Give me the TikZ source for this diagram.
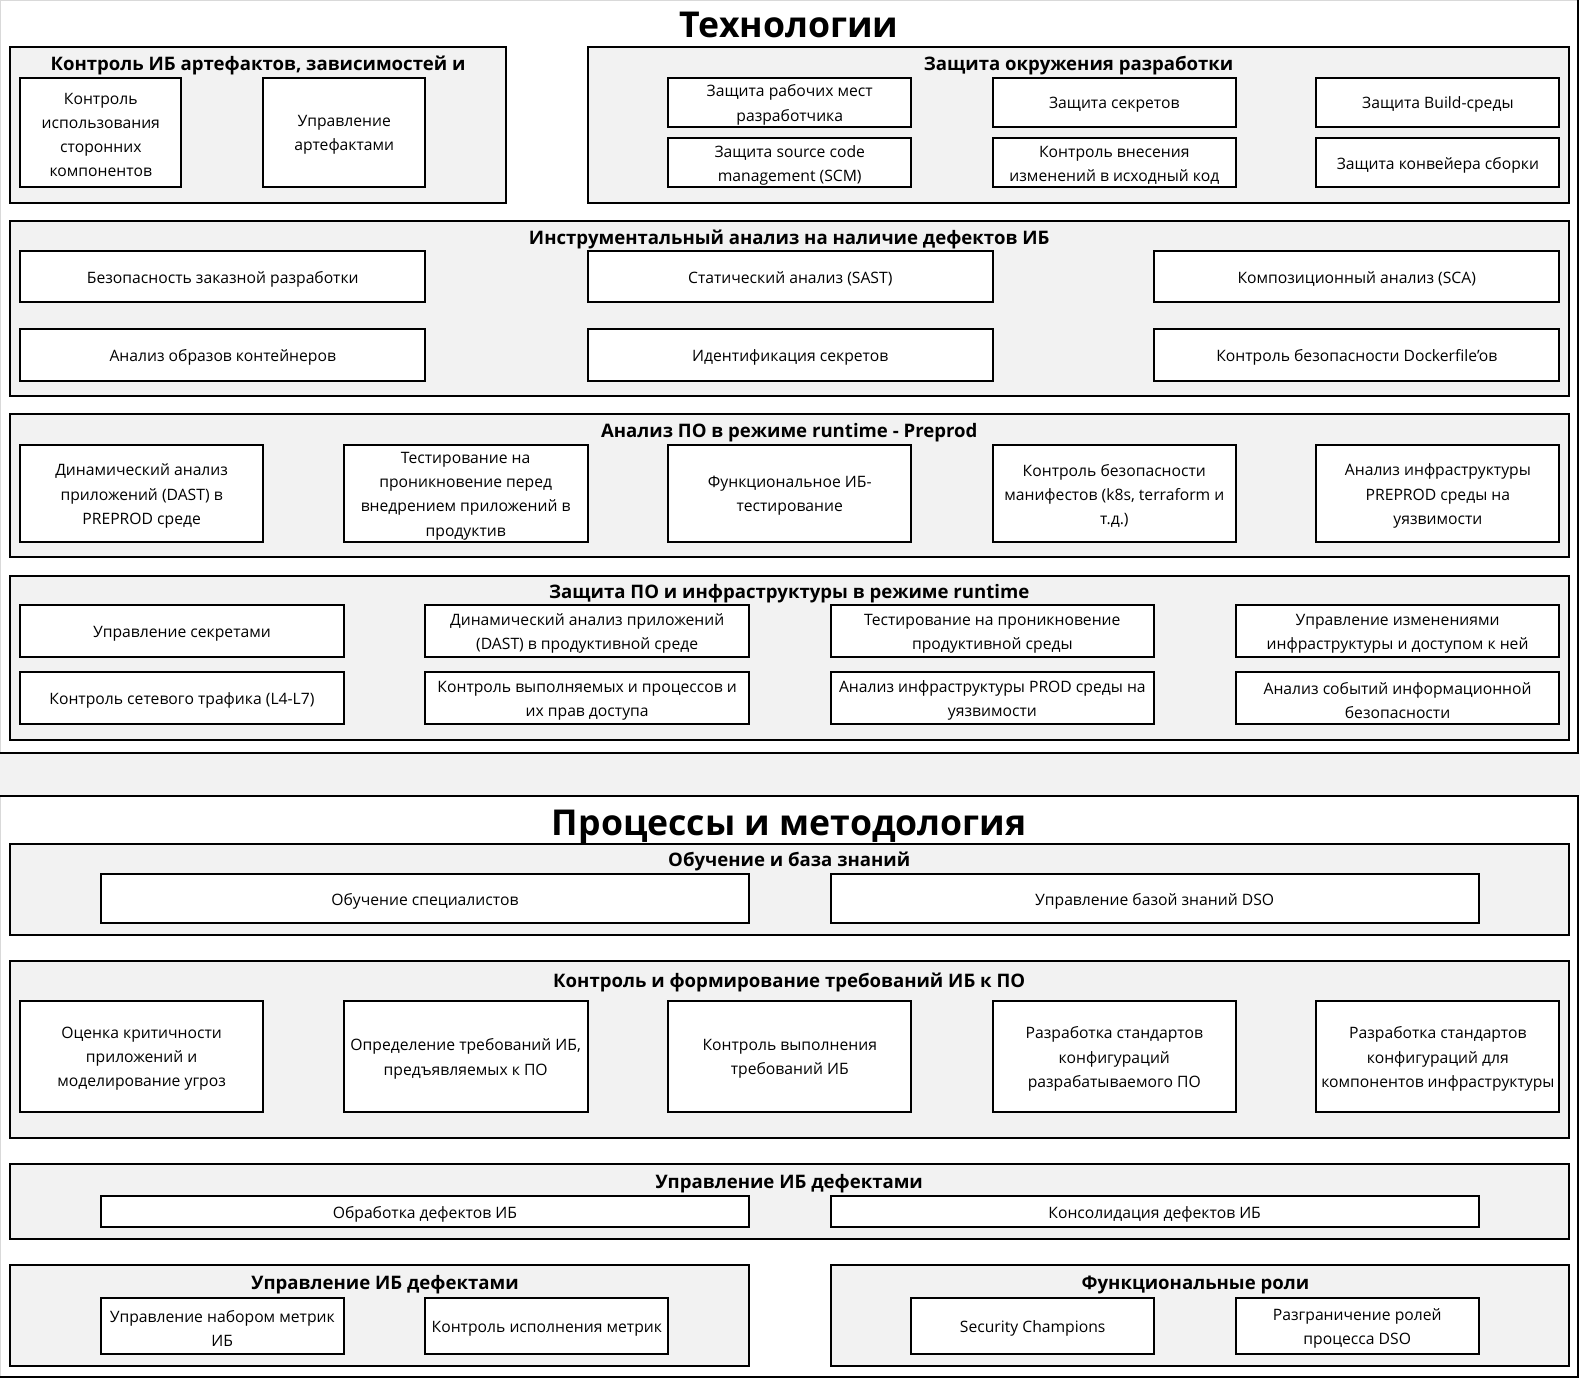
\documentclass[tikz,border=0pt]{standalone}
\usepackage{fontspec}
\setmainfont{Open Sans}

\definecolor{panel}{HTML}{F2F2F2}
\definecolor{edge}{HTML}{D9D9D9}

\tikzset{
  grp/.style={draw=black, line width=1pt, fill=panel, inner sep=0pt},
  item/.style={draw=black, line width=1pt, fill=white, inner sep=0pt},
  itemtext/.style={inner sep=0pt, align=center, font=\fontsize{7.85}{12.1}\selectfont},
  grptitle/.style={font=\fontsize{9.3}{11}\selectfont\bfseries, inner sep=0pt, anchor=base},
  bigtitle/.style={font=\fontsize{17.8}{21}\selectfont\bfseries, inner sep=0pt, anchor=base}
}

% box from (x1,y1) to (x2,y2), in pixel units, text in its middle
\newcommand{\boxnode}[7]{%
  \node[#1, minimum width={(#5-#3)*0.504pt}, minimum height={(#6-#4)*0.504pt}]
    (#2) at ({(#3+#5)/2},{(#4+#6)/2}) {};
  \node[itemtext] (#2t) at ([yshift=-1.3pt]#2.center) {#7};}

\begin{document}
\begin{tikzpicture}[x=0.504pt, y=-0.504pt]
\useasboundingbox (0,0) rectangle (1567.5,1367);

% outer frames
\fill[panel] (0,747) rectangle (1567.5,790);
\draw[edge, line width=0.6pt] (0.5,747) -- (0.5,0.5) -- (1566,0.5);
\draw[edge, line width=0.6pt] (0.5,790) -- (0.5,1366);
\draw[line width=1pt] (0,747) -- (1566,747) -- (1566,0);
\draw[line width=1pt] (0,790) -- (1566,790) -- (1566,1366) -- (0,1366);

\node[bigtitle] (tech) at (783,37) {Технологии};
\node[bigtitle] (proc) at (783,829) {Процессы и методология};


% Контроль ИБ артефактов
\boxnode{grp}{art}{10}{47}{502}{201}{}
\node[grptitle] (artT) at (256,70) {Контроль ИБ артефактов, зависимостей и};
\boxnode{item}{art1}{20}{77}{180}{186}{Контроль\\использования\\сторонних\\компонентов}
\boxnode{item}{art2}{261}{77}{422}{186}{Управление\\артефактами}

% Защита окружения разработки
\boxnode{grp}{env}{583}{47}{1557}{201}{}
\node[grptitle] (envT) at (1070,70) {Защита окружения разработки};
\boxnode{item}{env1}{663}{77}{904}{126}{Защита рабочих мест\\разработчика}
\boxnode{item}{env2}{985}{77}{1226}{126}{Защита секретов}
\boxnode{item}{env3}{1306}{77}{1547}{126}{Защита Build-среды}
\boxnode{item}{env4}{663}{137}{904}{186}{Защита source code\\management (SCM)}
\boxnode{item}{env5}{985}{137}{1226}{186}{Контроль внесения\\изменений в исходный код}
\boxnode{item}{env6}{1306}{137}{1547}{186}{Защита конвейера сборки}

% Инструментальный анализ
\boxnode{grp}{tool}{10}{219}{1557}{393}{}
\node[grptitle] (toolT) at (783,243) {Инструментальный анализ на наличие дефектов ИБ};
\boxnode{item}{tool1}{20}{249}{422}{300}{Безопасность заказной разработки}
\boxnode{item}{tool2}{583}{249}{985}{300}{Статический анализ (SAST)}
\boxnode{item}{tool3}{1145}{249}{1547}{300}{Композиционный анализ (SCA)}
\boxnode{item}{tool4}{20}{326}{422}{378}{Анализ образов контейнеров}
\boxnode{item}{tool5}{583}{326}{985}{378}{Идентификация секретов}
\boxnode{item}{tool6}{1145}{326}{1547}{378}{Контроль безопасности Dockerfile’ов}

% Анализ ПО в режиме runtime - Preprod
\boxnode{grp}{pre}{10}{411}{1557}{553}{}
\node[grptitle] (preT) at (783,434) {Анализ ПО в режиме runtime - Preprod};
\boxnode{item}{pre1}{20}{441}{261}{538}{Динамический анализ\\приложений (DAST) в\\PREPROD среде}
\boxnode{item}{pre2}{341}{441}{583}{538}{Тестирование на\\проникновение перед\\внедрением приложений в\\продуктив}
\boxnode{item}{pre3}{663}{441}{904}{538}{Функциональное ИБ-\\тестирование}
\boxnode{item}{pre4}{985}{441}{1226}{538}{Контроль безопасности\\манифестов (k8s, terraform и\\т.д.)}
\boxnode{item}{pre5}{1306}{441}{1547}{538}{Анализ инфраструктуры\\PREPROD среды на\\уязвимости}

% Защита ПО и инфраструктуры в режиме runtime
\boxnode{grp}{run}{10}{571}{1557}{734}{}
\node[grptitle] (runT) at (783,594) {Защита ПО и инфраструктуры в режиме runtime};
\boxnode{item}{run1}{20}{600}{341}{652}{Управление секретами}
\boxnode{item}{run2}{422}{600}{743}{652}{Динамический анализ приложений\\(DAST) в продуктивной среде}
\boxnode{item}{run3}{824}{600}{1145}{652}{Тестирование на проникновение\\продуктивной среды}
\boxnode{item}{run4}{1226}{600}{1547}{652}{Управление изменениями\\инфраструктуры и доступом к ней}
\boxnode{item}{run5}{20}{667}{341}{718}{Контроль сетевого трафика (L4-L7)}
\boxnode{item}{run6}{422}{667}{743}{718}{Контроль выполняемых и процессов и\\их прав доступа}
\boxnode{item}{run7}{824}{667}{1145}{718}{Анализ инфраструктуры PROD среды на\\уязвимости}
\boxnode{item}{run8}{1226}{667}{1547}{718}{Анализ событий информационной\\безопасности}


% Обучение и база знаний
\boxnode{grp}{edu}{10}{837}{1557}{928}{}
\node[grptitle] (eduT) at (783,860) {Обучение и база знаний};
\boxnode{item}{edu1}{100}{867}{743}{916}{Обучение специалистов}
\boxnode{item}{edu2}{824}{867}{1467}{916}{Управление базой знаний DSO}

% Контроль и формирование требований
\boxnode{grp}{req}{10}{953}{1557}{1129}{}
\node[grptitle] (reqT) at (783,980) {Контроль и формирование требований ИБ к ПО};
\boxnode{item}{req1}{20}{993}{261}{1103}{Оценка критичности\\приложений и\\моделирование угроз}
\boxnode{item}{req2}{341}{993}{583}{1103}{Определение требований ИБ,\\предъявляемых к ПО}
\boxnode{item}{req3}{663}{993}{904}{1103}{Контроль выполнения\\требований ИБ}
\boxnode{item}{req4}{985}{993}{1226}{1103}{Разработка стандартов\\конфигураций\\разрабатываемого ПО}
\boxnode{item}{req5}{1306}{993}{1547}{1103}{Разработка стандартов\\конфигураций для\\компонентов инфраструктуры}

% Управление ИБ дефектами
\boxnode{grp}{def}{10}{1155}{1557}{1229}{}
\node[grptitle] (defT) at (783,1179) {Управление ИБ дефектами};
\boxnode{item}{def1}{100}{1187}{743}{1217}{Обработка дефектов ИБ}
\boxnode{item}{def2}{824}{1187}{1467}{1217}{Консолидация дефектов ИБ}

% метрики
\boxnode{grp}{met}{10}{1255}{743}{1355}{}
\node[grptitle] (metT) at (382,1279) {Управление ИБ дефектами};
\boxnode{item}{met1}{100}{1288}{341}{1343}{Управление набором метрик\\ИБ}
\boxnode{item}{met2}{422}{1288}{663}{1343}{Контроль исполнения метрик}

% Функциональные роли
\boxnode{grp}{role}{824}{1255}{1557}{1355}{}
\node[grptitle] (roleT) at (1186,1279) {Функциональные роли};
\boxnode{item}{role1}{904}{1288}{1145}{1343}{Security Champions}
\boxnode{item}{role2}{1226}{1288}{1467}{1343}{Разграничение ролей\\процесса DSO}

\end{tikzpicture}
\end{document}
